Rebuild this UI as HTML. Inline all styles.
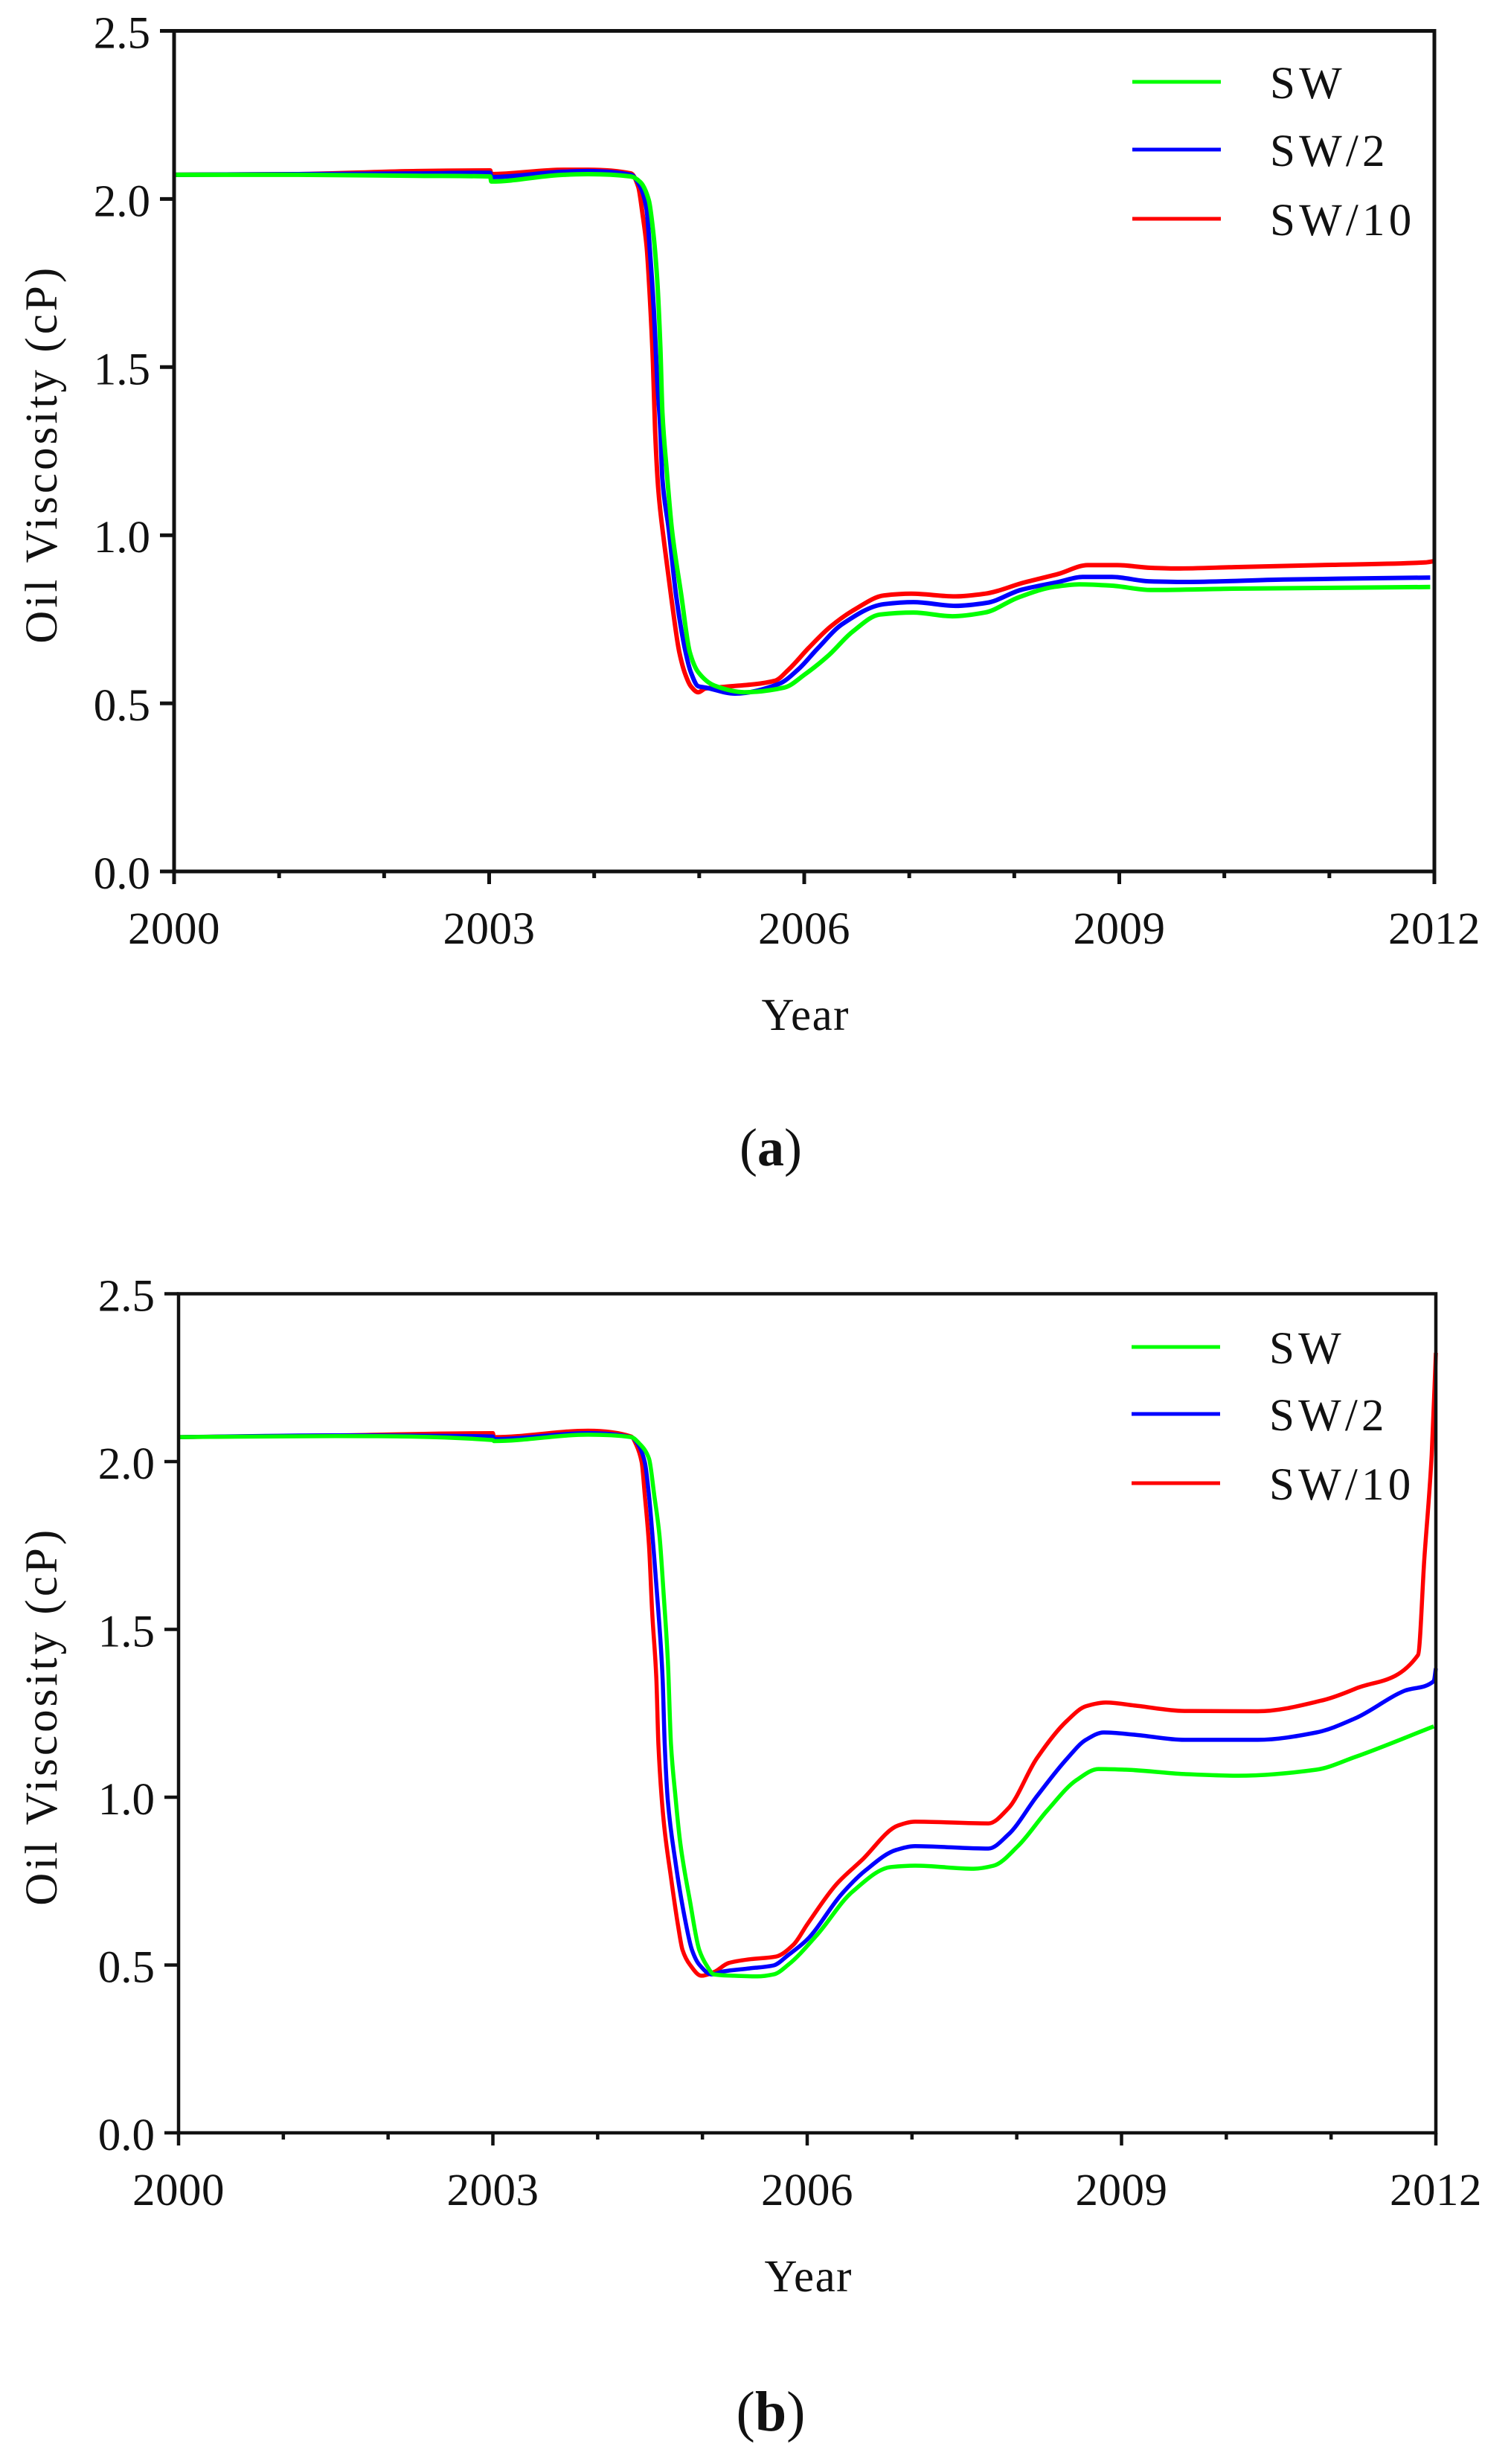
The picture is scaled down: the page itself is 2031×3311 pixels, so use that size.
<!DOCTYPE html>
<html lang="en">
<head>
<meta charset="utf-8">
<title>Oil Viscosity vs Year</title>
<style>
html,body{margin:0;padding:0;background:#fff;}
svg{display:block;}
text{font-family:"Liberation Serif",serif;fill:#111;font-size:61px;}
</style>
</head>
<body>
<svg id="figure" xmlns="http://www.w3.org/2000/svg" width="2031" height="3311" viewBox="0 0 2031 3311">
<rect x="0" y="0" width="2031" height="3311" fill="#ffffff"/>
<text x="1036" y="1566" text-anchor="middle" style="font-size:72px">(<tspan font-weight="bold">a</tspan>)</text>
<text x="1036" y="3266" text-anchor="middle" style="font-size:76px">(<tspan font-weight="bold">b</tspan>)</text>
</svg>
<script>
// Shared axis data
const yearTickLabels = [2000, 2003, 2006, 2009, 2012];
const yearMinorTicks = [2001, 2002, 2004, 2005, 2007, 2008, 2010, 2011];
const viscosityTickLabels = [0.0, 0.5, 1.0, 1.5, 2.0, 2.5];
const seriesNames = ["SW", "SW/2", "SW/10"];
const seriesColors = ["#00ff00", "#0000ff", "#ff0000"];

// Panel (a)
const aYearsSW = [2000,2001.18,2002.31,2003.01,2003.02,2003.71,2003.94,2004.35,2004.44,2004.52,2004.56,2004.60,2004.63,2004.65,2004.69,2004.74,2004.83,2004.91,2004.99,2005.15,2005.43,2005.81,2006.01,2006.23,2006.46,2006.72,2007.04,2007.41,2007.72,2008.04,2008.37,2008.62,2008.93,2009.30,2010.09,2011.96];
const aValuesSW = [2.072,2.072,2.069,2.067,2.052,2.072,2.074,2.067,2.050,1.996,1.908,1.760,1.560,1.363,1.195,1.018,0.821,0.653,0.593,0.552,0.533,0.547,0.587,0.642,0.713,0.764,0.770,0.759,0.770,0.815,0.846,0.854,0.850,0.837,0.841,0.846];
const aYearsSW2 = [2000,2001.18,2002.31,2003.01,2003.02,2003.71,2003.94,2004.35,2004.44,2004.50,2004.53,2004.57,2004.60,2004.63,2004.65,2004.71,2004.78,2004.87,2004.92,2004.99,2005.06,2005.34,2005.76,2005.94,2006.13,2006.36,2006.76,2007.04,2007.44,2007.74,2008.06,2008.42,2008.65,2008.93,2009.28,2009.63,2010.56,2011.96];
const aValuesSW2 = [2.072,2.074,2.076,2.078,2.065,2.081,2.083,2.072,2.036,1.968,1.848,1.660,1.463,1.315,1.166,1.018,0.821,0.653,0.593,0.551,0.547,0.529,0.558,0.600,0.664,0.735,0.795,0.801,0.790,0.799,0.837,0.861,0.876,0.876,0.863,0.861,0.868,0.874];
const aYearsSW10 = [2000,2001.18,2002.31,2003.01,2003.02,2003.71,2003.94,2004.35,2004.42,2004.46,2004.50,2004.53,2004.56,2004.58,2004.61,2004.67,2004.74,2004.81,2004.87,2004.92,2004.99,2005.06,2005.24,2005.72,2005.85,2006.04,2006.25,2006.48,2006.76,2007.02,2007.44,2007.72,2008.09,2008.42,2008.70,2008.98,2009.30,2009.54,2010.09,2011.03,2011.91,2012.0];
const aValuesSW10 = [2.072,2.074,2.083,2.085,2.074,2.087,2.087,2.076,2.036,1.957,1.857,1.709,1.512,1.315,1.138,0.969,0.801,0.653,0.584,0.551,0.533,0.544,0.549,0.567,0.600,0.664,0.728,0.779,0.821,0.826,0.818,0.826,0.859,0.885,0.911,0.911,0.903,0.901,0.905,0.912,0.919,0.923];

// Panel (b)
const bYearsSW = [2000,2001.5,2003.00,2003.01,2003.91,2004.32,2004.40,2004.49,2004.54,2004.59,2004.63,2004.67,2004.70,2004.74,2004.79,2004.88,2004.97,2005.04,2005.11,2005.30,2005.52,2005.68,2005.82,2006.10,2006.43,2006.80,2007.03,2007.59,2007.78,2008.01,2008.29,2008.57,2008.78,2009.04,2009.60,2010.11,2010.86,2011.23,2011.98];
const bValuesSW = [2.073,2.076,2.064,2.061,2.080,2.073,2.053,2.009,1.900,1.780,1.603,1.406,1.157,1.009,0.860,0.692,0.545,0.499,0.472,0.468,0.466,0.472,0.501,0.592,0.718,0.792,0.796,0.787,0.796,0.854,0.960,1.051,1.084,1.082,1.069,1.064,1.082,1.120,1.211];
const bYearsSW2 = [2000,2001.5,2003.00,2003.01,2003.91,2004.32,2004.39,2004.45,2004.49,2004.53,2004.58,2004.62,2004.64,2004.67,2004.74,2004.83,2004.90,2004.97,2005.09,2005.20,2005.45,2005.68,2005.82,2006.00,2006.33,2006.56,2006.85,2007.03,2007.73,2007.92,2008.19,2008.48,2008.66,2008.83,2009.13,2009.60,2010.30,2010.86,2011.23,2011.70,2011.98,2012.00];
const bValuesSW2 = [2.073,2.078,2.075,2.067,2.085,2.073,2.049,1.998,1.900,1.752,1.552,1.355,1.157,0.989,0.812,0.643,0.545,0.501,0.472,0.481,0.490,0.499,0.530,0.576,0.712,0.783,0.843,0.854,0.847,0.889,1.002,1.115,1.171,1.193,1.186,1.171,1.171,1.193,1.235,1.317,1.346,1.384];
const bYearsSW10 = [2000,2001.5,2003.00,2003.01,2003.91,2004.32,2004.37,2004.42,2004.45,2004.49,2004.52,2004.56,2004.58,2004.63,2004.70,2004.77,2004.81,2004.88,2004.99,2005.11,2005.25,2005.45,2005.70,2005.87,2006.00,2006.28,2006.52,2006.87,2007.03,2007.73,2007.92,2008.19,2008.48,2008.66,2008.85,2009.13,2009.60,2010.30,2010.91,2011.23,2011.83,2011.89,2011.96,2012.00];
const bValuesSW10 = [2.073,2.078,2.085,2.073,2.092,2.075,2.049,1.998,1.900,1.752,1.552,1.355,1.157,0.929,0.761,0.612,0.545,0.501,0.468,0.479,0.506,0.517,0.525,0.561,0.621,0.741,0.812,0.916,0.927,0.922,0.967,1.115,1.228,1.271,1.282,1.273,1.257,1.256,1.288,1.323,1.424,1.710,2.020,2.324];

const SVG_NS = "http://www.w3.org/2000/svg";
const figure = document.getElementById("figure");

function make(tag, attrs, parent) {
  const el = document.createElementNS(SVG_NS, tag);
  for (const k in attrs) el.setAttribute(k, attrs[k]);
  parent.appendChild(el);
  return el;
}

// Monotone-in-x cubic path through the given screen points
function smoothPath(xs, ys) {
  const n = xs.length;
  const slopes = [];
  for (let i = 0; i < n - 1; i++) slopes.push((ys[i + 1] - ys[i]) / (xs[i + 1] - xs[i]));
  const tangents = [slopes[0]];
  for (let i = 1; i < n - 1; i++) {
    const a = slopes[i - 1], b = slopes[i];
    if (a * b <= 0) { tangents.push(0); continue; }
    const h0 = xs[i] - xs[i - 1], h1 = xs[i + 1] - xs[i];
    const w1 = 2 * h1 + h0, w2 = h1 + 2 * h0;
    tangents.push((w1 + w2) / (w1 / a + w2 / b));
  }
  tangents.push(slopes[n - 2]);
  let d = "M" + xs[0].toFixed(1) + " " + ys[0].toFixed(1);
  for (let i = 0; i < n - 1; i++) {
    const h = (xs[i + 1] - xs[i]) / 3;
    d += "C" + (xs[i] + h).toFixed(2) + " " + (ys[i] + tangents[i] * h).toFixed(2) + " " +
         (xs[i + 1] - h).toFixed(2) + " " + (ys[i + 1] - tangents[i + 1] * h).toFixed(2) + " " +
         xs[i + 1].toFixed(1) + " " + ys[i + 1].toFixed(1);
  }
  return d;
}

function drawPanel(p) {
  const g = make("g", {}, figure);
  
  

  const xScale = v => p.left + (v - 2000) / 12 * (p.right - p.left);
  const yScale = v => p.bottom - v / 2.5 * (p.bottom - p.top);
  const axisColor = "#111";

  // Series, drawn red first and green last
  for (let i = p.series.length - 1; i >= 0; i--) {
    const s = p.series[i];
    const d = smoothPath(s.years.map(xScale), s.values.map(yScale));
    const line = make("path", {d: d, fill: "none", stroke: seriesColors[i], "stroke-width": p.lineWidth, "stroke-linejoin": "round", "stroke-linecap": "butt"}, g);
    
    
  }

  // Plot frame
  const frame = make("rect", {x: p.left, y: p.top, width: p.right - p.left, height: p.bottom - p.top, fill: "none", stroke: axisColor, "stroke-width": p.axisWidth}, g);
  
  

  // Y ticks and labels
  viscosityTickLabels.forEach(v => {
    const y = yScale(v);
    const tick = make("line", {x1: p.left - 19, x2: p.left, y1: y, y2: y, stroke: axisColor, "stroke-width": p.axisWidth}, g);
    
    
    const label = make("text", {x: p.left - 32, y: y + 23, "text-anchor": "end"}, g);
    label.textContent = v.toFixed(1);
    
    
  });

  // X ticks and labels
  yearTickLabels.forEach(v => {
    const x = xScale(v);
    const tick = make("line", {x1: x, x2: x, y1: p.bottom, y2: p.bottom + 17, stroke: axisColor, "stroke-width": p.axisWidth}, g);
    
    
    const label = make("text", {x: x, y: p.bottom + 97, "text-anchor": "middle", "letter-spacing": 0.5}, g);
    label.textContent = String(v);
    
    
  });
  yearMinorTicks.forEach(v => {
    const x = xScale(v);
    const tick = make("line", {x1: x, x2: x, y1: p.bottom, y2: p.bottom + 9, stroke: axisColor, "stroke-width": p.axisWidth}, g);
    
    
  });

  // Axis titles
  const xTitle = make("text", {x: (p.left + p.right) / 2 + 1, y: p.bottom + 213, "text-anchor": "middle", textLength: 117, lengthAdjust: "spacing"}, g);
  xTitle.textContent = "Year";
  
  

  const cy = (p.top + p.bottom) / 2 + 6;
  const yTitle = make("text", {x: 0, y: 0, "text-anchor": "middle", textLength: 505, lengthAdjust: "spacing", transform: "translate(76 " + cy + ") rotate(-90)"}, g);
  yTitle.textContent = "Oil Viscosity (cP)";
  
  

  // Legend
  seriesNames.forEach((name, i) => {
    const ly = p.legendY[i];
    const key = make("line", {x1: p.legendX, x2: p.legendX + 119, y1: ly, y2: ly, stroke: seriesColors[i], "stroke-width": 5}, g);
    
    
    const label = make("text", {x: p.legendTextX, y: ly + 22, "letter-spacing": 5.2}, g);
    label.textContent = name;
    
    
  });
}

drawPanel({
  id: "a", left: 234, right: 1928, top: 41.5, bottom: 1171, axisWidth: 5, lineWidth: 6,
  legendX: 1522, legendTextX: 1707, legendY: [110, 201, 294],
  series: [
    {years: aYearsSW, values: aValuesSW},
    {years: aYearsSW2, values: aValuesSW2},
    {years: aYearsSW10, values: aValuesSW10}
  ]
});
drawPanel({
  id: "b", left: 240, right: 1930, top: 1738.5, bottom: 2866, axisWidth: 4.5, lineWidth: 5.5,
  legendX: 1521, legendTextX: 1706, legendY: [1810, 1900, 1993],
  series: [
    {years: bYearsSW, values: bValuesSW},
    {years: bYearsSW2, values: bValuesSW2},
    {years: bYearsSW10, values: bValuesSW10}
  ]
});
</script>
</body>
</html>
